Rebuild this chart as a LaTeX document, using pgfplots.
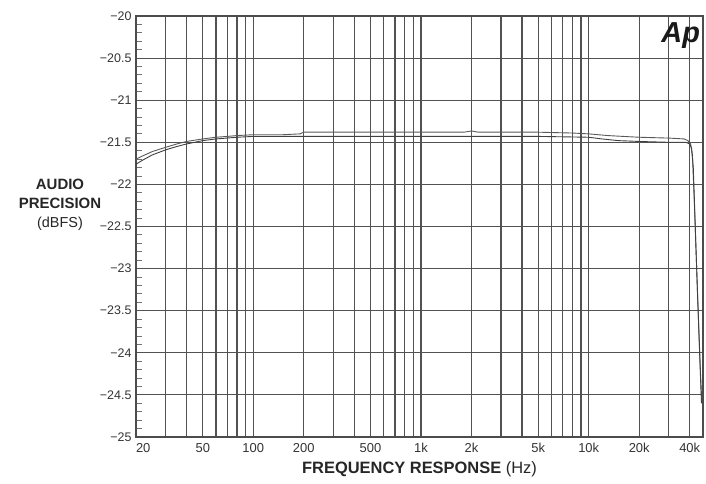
\documentclass[border=0pt]{standalone}
\usepackage{pgfplots}
\pgfplotsset{compat=1.18}
\usepackage{pgfplotstable}
\usepackage{fontspec}
\setmainfont{Liberation Sans}

% two channels of the Audio Precision sweep
\pgfplotstableread{
f db
20 -21.70
22 -21.66
25 -21.61
30 -21.56
35 -21.52
40 -21.49
50 -21.46
60 -21.44
70 -21.43
80 -21.42
100 -21.41
150 -21.41
190 -21.40
200 -21.38
500 -21.38
1000 -21.38
1800 -21.38
2000 -21.365
2200 -21.38
5000 -21.38
8000 -21.39
10000 -21.40
13000 -21.42
16000 -21.43
20000 -21.44
30000 -21.45
37000 -21.46
39000 -21.48
40500 -21.52
41500 -21.65
42500 -22.15
44000 -23.0
45500 -23.8
46500 -24.3
47200 -24.58
}\chanA
\pgfplotstableread{
f db
20 -21.76
22 -21.71
25 -21.65
30 -21.59
35 -21.55
40 -21.52
50 -21.48
60 -21.46
80 -21.44
100 -21.43
200 -21.43
1000 -21.43
5000 -21.43
10000 -21.44
12000 -21.46
15000 -21.48
20000 -21.49
30000 -21.50
38000 -21.50
40000 -21.52
41000 -21.57
42000 -21.80
43000 -22.40
44500 -23.30
46000 -24.10
47000 -24.60
}\chanB

\begin{document}
\begin{tikzpicture}
	\begin{axis}[
			scale only axis,
			width=567bp,
			height=421bp,
			xmode=log,
			xmin=20, xmax=48000,
			ymin=-25, ymax=-20,
			xtick={20,50,100,200,500,1000,2000,5000,10000,20000,40000},
			xticklabels={\makebox[0pt][l]{20},50,100,200,500,1k,2k,5k,10k,20k,40k},
			minor xtick={30,40,60,70,80,90,300,400,600,700,800,900,3000,4000,6000,7000,8000,9000,30000},
			ytick={-25,-24.5,-24,-23.5,-23,-22.5,-22,-21.5,-21,-20.5,-20},
			yticklabels={−25,−24.5,−24,−23.5,−23,−22.5,−22,−21.5,−21,−20.5,−20},
			minor y tick num=4,
			xmajorgrids, xminorgrids, ymajorgrids,
			major grid style={black!68, line width=1.2pt},
			minor grid style={black!68, line width=1.2pt},
			axis line style={black!70, line width=1.4pt},
			xtick style={draw=none},
			major tick length=0pt,
			minor tick length=6bp,
			tick align=inside,
			ytick pos=left,
			minor y tick style={black!55, line width=0.9pt},
			ticklabel style={text=black!80},
			xticklabel style={font=\fontsize{13}{15}\selectfont, yshift=-3bp},
			yticklabel style={font=\fontsize{12.5}{15}\selectfont, xshift=-1bp},
			xlabel={\textbf{FREQUENCY RESPONSE} (Hz)},
			xlabel style={font=\fontsize{16.5}{18}\selectfont, text=black!85, yshift=-2bp},
			clip=false,
		]
		\addplot[black!65, line width=0.9pt] table[x=f, y=db] {\chanA};
		\addplot[black!75, line width=0.9pt] table[x=f, y=db] {\chanB};
		\node[anchor=center, align=center, text=black!85,
			font=\fontsize{15}{19}\selectfont]
			at (rel axis cs:-0.134,0.551)
			{\textbf{AUDIO}\\\textbf{PRECISION}\\{\fontsize{14.5}{19}\selectfont(dBFS)}};
		\node[anchor=north east, inner sep=0pt, text=black!90,
			font=\fontsize{29}{29}\selectfont\bfseries\itshape]
			at (rel axis cs:0.995,0.985) {Ap};
	\end{axis}
	\path (current axis.south west) ++(-136bp,-47bp) coordinate (bbA);
	\path (current axis.north east) ++(3bp,16bp) coordinate (bbB);
	\path (bbA) rectangle (bbB);
\end{tikzpicture}
\end{document}
